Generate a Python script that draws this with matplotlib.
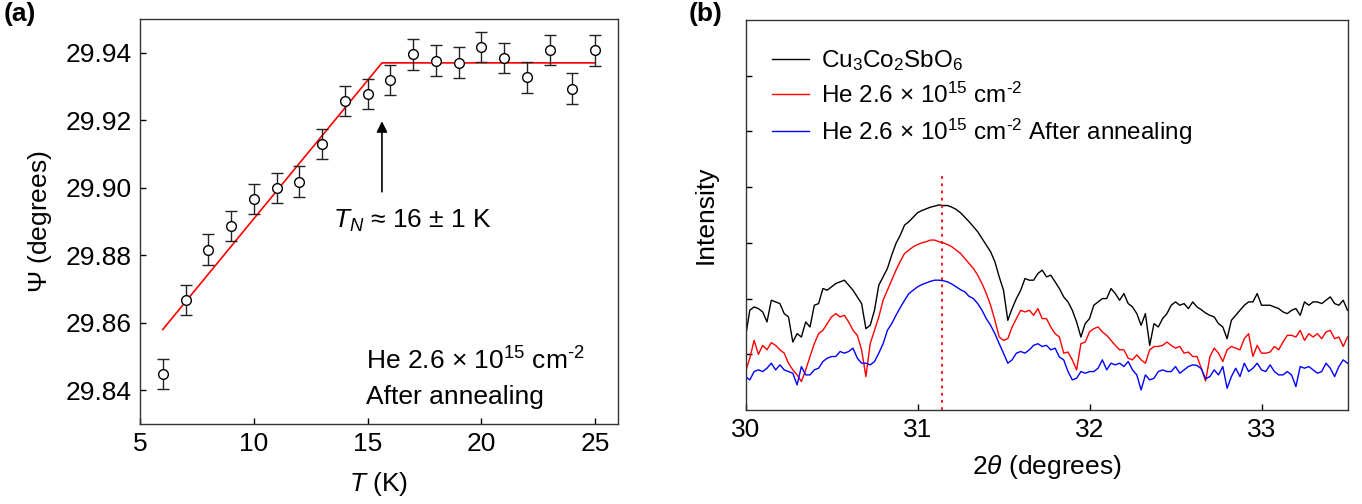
import numpy as np
import matplotlib
matplotlib.use("Agg")
import matplotlib.pyplot as plt

plt.rcParams['font.family'] = ['Liberation Sans', 'DejaVu Sans']
plt.rcParams['mathtext.fontset'] = 'custom'
plt.rcParams['mathtext.rm'] = 'Liberation Sans'
plt.rcParams['mathtext.it'] = 'Liberation Sans:italic'
plt.rcParams['mathtext.bf'] = 'Liberation Sans:bold'

# ---------------- Panel (a) data ----------------
T_K = [6, 7, 8, 9, 10, 11, 12, 13, 14, 15, 16, 17, 18, 19, 20, 21, 22, 23, 24, 25]
psi = [29.8449, 29.8668, 29.8817, 29.8886, 29.8967, 29.9000, 29.9018, 29.9129,
       29.9257, 29.9277, 29.9320, 29.9395, 29.9377, 29.9371, 29.9417, 29.9385,
       29.9327, 29.9408, 29.9294, 29.9407]
psi_err = [0.0045] * 20
fit_T = [6, 15.63, 25]
fit_psi = [29.858, 29.937, 29.937]
TN = 15.63

# ---------------- Panel (b) data ----------------
theta_start, theta_end = 30.0, 33.5
I_pristine = [
    1.31, 1.79, 1.85, 1.82, 1.76, 1.58, 1.97, 1.94, 1.91, 1.73,
    1.67, 1.22, 1.37, 1.31, 1.58, 1.49, 1.88, 1.91, 2.18, 2.15,
    2.21, 2.27, 2.30, 2.33, 2.24, 2.15, 2.03, 1.91, 1.46, 1.52,
    1.79, 2.24, 2.39, 2.54, 2.78, 2.99, 3.14, 3.32, 3.38, 3.46,
    3.54, 3.58, 3.61, 3.64, 3.66, 3.68, 3.67, 3.67, 3.64, 3.60,
    3.54, 3.46, 3.38, 3.29, 3.20, 3.08, 2.96, 2.84, 2.66, 2.39,
    2.15, 1.61, 1.82, 2.00, 2.15, 2.36, 2.33, 2.33, 2.45, 2.51,
    2.39, 2.42, 2.30, 2.18, 2.03, 1.94, 1.79, 1.58, 1.31, 1.55,
    1.64, 1.88, 1.94, 2.00, 2.00, 2.18, 2.09, 1.97, 2.09, 1.91,
    1.85, 1.73, 1.52, 1.73, 1.16, 1.55, 1.49, 1.64, 1.73, 1.88,
    1.94, 1.88, 1.91, 1.82, 1.94, 1.85, 1.80, 1.74, 1.70, 1.67,
    1.55, 1.49, 1.28, 1.61, 1.70, 1.79, 1.88, 1.94, 1.94, 2.09,
    1.88, 1.88, 1.88, 1.85, 1.82, 1.76, 1.73, 1.79, 1.82, 1.70,
    1.94, 1.88, 1.94, 1.94, 1.91, 1.97, 2.03, 1.91, 1.88, 1.97,
    1.79]
I_irradiated = [
    0.69, 0.93, 1.25, 1.00, 1.16, 1.08, 1.21, 1.16, 1.08, 1.02,
    0.84, 0.72, 0.63, 0.51, 0.72, 0.96, 1.19, 1.37, 1.43, 1.55,
    1.67, 1.73, 1.67, 1.70, 1.58, 1.43, 1.34, 1.08, 0.60, 1.19,
    1.43, 1.67, 1.97, 2.15, 2.33, 2.51, 2.67, 2.81, 2.87, 2.93,
    2.97, 3.00, 3.02, 3.05, 3.05, 3.02, 3.00, 2.97, 2.93, 2.87,
    2.81, 2.72, 2.63, 2.54, 2.42, 2.27, 2.09, 1.88, 1.61, 1.31,
    1.25, 1.28, 1.49, 1.64, 1.79, 1.76, 1.79, 1.70, 1.82, 1.64,
    1.64, 1.49, 1.37, 1.31, 1.02, 1.04, 0.90, 0.72, 1.19, 1.22,
    1.40, 1.46, 1.49, 1.40, 1.34, 1.25, 1.16, 1.08, 1.08, 0.93,
    0.90, 0.99, 0.90, 0.84, 1.08, 1.14, 1.14, 1.16, 1.22, 1.16,
    1.11, 1.14, 1.02, 1.04, 0.96, 0.96, 0.75, 0.52, 0.96, 1.11,
    1.02, 0.87, 1.08, 1.14, 1.11, 1.08, 1.28, 1.37, 0.96, 1.16,
    1.02, 1.02, 1.04, 1.14, 1.08, 1.22, 1.34, 1.34, 1.31, 1.43,
    1.25, 1.37, 1.31, 1.37, 1.28, 1.40, 1.43, 1.28, 1.31, 1.14,
    1.31]
I_annealed = [
    0.60, 0.54, 0.69, 0.72, 0.69, 0.75, 0.84, 0.72, 0.81, 0.72,
    0.69, 0.66, 0.45, 0.78, 0.63, 0.63, 0.72, 0.75, 0.87, 0.93,
    0.96, 0.96, 1.05, 1.02, 1.05, 1.11, 0.93, 0.84, 0.84, 0.81,
    0.87, 1.02, 1.19, 1.43, 1.55, 1.70, 1.84, 1.97, 2.09, 2.15,
    2.21, 2.25, 2.28, 2.31, 2.33, 2.33, 2.32, 2.30, 2.26, 2.21,
    2.16, 2.12, 2.04, 2.00, 1.91, 1.79, 1.64, 1.52, 1.37, 1.19,
    1.02, 0.84, 0.90, 1.02, 1.05, 1.02, 1.08, 1.16, 1.19, 1.14,
    1.16, 1.08, 1.11, 0.95, 0.90, 0.69, 0.54, 0.57, 0.69, 0.66,
    0.69, 0.69, 0.75, 0.90, 0.72, 0.84, 0.81, 0.84, 0.78, 0.87,
    0.72, 0.63, 0.36, 0.63, 0.54, 0.57, 0.69, 0.72, 0.69, 0.69,
    0.78, 0.66, 0.72, 0.78, 0.81, 0.80, 0.74, 0.56, 0.60, 0.72,
    0.63, 0.78, 0.39, 0.60, 0.75, 0.60, 0.84, 0.69, 0.75, 0.84,
    0.72, 0.69, 0.81, 0.69, 0.63, 0.63, 0.69, 0.63, 0.42, 0.78,
    0.75, 0.78, 0.72, 0.66, 0.69, 0.84, 0.75, 0.60, 0.78, 0.90,
    0.84]
peak_pos = 31.14
legend_labels = [r'Cu$_3$Co$_2$SbO$_6$',
                 r'He 2.6 $\times$ 10$^{15}$ cm$^{\text{-}2}$',
                 r'He 2.6 $\times$ 10$^{15}$ cm$^{\text{-}2}$ After annealing']

W, H = 1362, 504
fig = plt.figure(figsize=(W / 100, H / 100), dpi=100)

def fx(px):
    return px / W

def fy(py):
    return 1 - py / H

# -------- Panel (a)
axa = fig.add_axes([fx(140), fy(424), fx(618 - 140), (424 - 19) / H])
axa.errorbar(T_K, psi, yerr=psi_err, fmt='o', mfc='white', mec='black',
             ms=7, mew=1.0, ecolor='#222222', elinewidth=1.0, capsize=4,
             capthick=1.0, zorder=3)
axa.plot(fit_T, fit_psi, color='#ff0000', lw=1.2, zorder=2)
axa.annotate('', xy=(TN, 29.9197), xytext=(TN, 29.8988),
             arrowprops=dict(arrowstyle='-|>', color='black', lw=1.2,
                             mutation_scale=16, shrinkA=0, shrinkB=0))
axa.text(13.46, 29.888, r'$T_N$ ≈ 16 ± 1 K', fontsize=19, va='baseline', ha='left')
axa.text(14.94, 29.846, r'He 2.6 $\times$ 10$^{15}$ cm$^{\text{-}2}$', fontsize=19,
         va='baseline', ha='left')
axa.text(14.94, 29.8359, 'After annealing', fontsize=19, va='baseline', ha='left')
axa.set_xlim(5, 26)
axa.set_ylim(29.83, 29.95)
axa.set_xticks([5, 10, 15, 20, 25])
axa.set_yticks([29.84, 29.86, 29.88, 29.90, 29.92, 29.94])
axa.set_yticklabels(['29.84', '29.86', '29.88', '29.90', '29.92', '29.94'])
axa.tick_params(direction='in', length=4, width=1, labelsize=19, pad=6)
axa.set_xlabel(r'$T$ (K)', fontsize=19, labelpad=10)
axa.set_ylabel(r'$\Psi$ (degrees)', fontsize=19, labelpad=8)
for s in axa.spines.values():
    s.set_linewidth(1.0)
    s.set_color('#333333')

# -------- Panel (b)
axb = fig.add_axes([fx(745.5), fy(410), fx(1347.5 - 745.5), (410 - 20) / H])
theta = np.linspace(theta_start, theta_end, len(I_pristine))
axb.plot(theta, I_pristine, color='black', lw=1.0, label=legend_labels[0])
axb.plot(theta, I_irradiated, color='#ff0000', lw=1.0, label=legend_labels[1])
axb.plot(theta, I_annealed, color='#0000ff', lw=1.0, label=legend_labels[2])
axb.plot([peak_pos, peak_pos], [0, 4.27], color='#ff0000', lw=1.3, ls=(0, (1.5, 2.5)))
axb.set_xlim(30, 33.5)
axb.set_ylim(0, 7)
axb.set_xticks([30, 31, 32, 33])
axb.set_yticks([1, 2, 3, 4, 5, 6])
axb.set_yticklabels([])
axb.tick_params(direction='in', length=4, width=1, labelsize=19, pad=6)
axb.set_xlabel(r'2$\theta$ (degrees)', fontsize=19, labelpad=8)
axb.set_ylabel('Intensity', fontsize=19, labelpad=14)
for s in axb.spines.values():
    s.set_linewidth(1.0)
    s.set_color('#333333')
axb.legend(loc='upper left', bbox_to_anchor=(0.02, 0.965), frameon=False,
           fontsize=17.5, handlelength=1.5, handletextpad=0.5, labelspacing=0.38,
           borderaxespad=0.2)

fig.text(fx(4), fy(2), '(a)', fontsize=19, fontweight='bold', va='top', ha='left')
fig.text(fx(689), fy(2), '(b)', fontsize=19, fontweight='bold', va='top', ha='left')

fig.savefig('out.png', dpi=100)
